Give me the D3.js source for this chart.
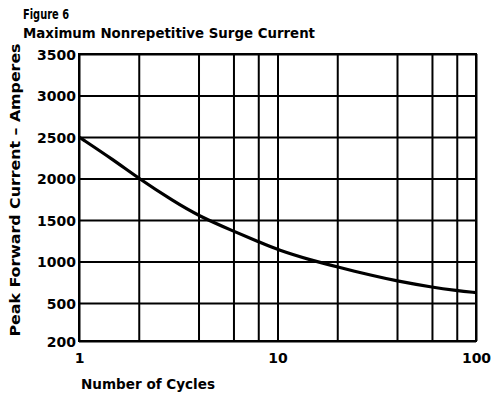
<!DOCTYPE html>
<html>
<head>
<meta charset="utf-8">
<script src="https://cdn.jsdelivr.net/npm/d3@7"></script>
<style>
  body { margin: 0; background: #fff; }
  text { font-family: "DejaVu Sans", sans-serif; font-weight: bold; fill: #000; }
</style>
</head>
<body>
<div id="chart"></div>
<script>
// values
var cycles  = [1, 1.5, 2, 3, 4, 6, 8, 10, 15, 20, 30, 40, 60, 80, 100];
var current = [2500, 2220, 2000, 1725, 1550, 1365, 1240, 1140, 1010, 935, 830, 765, 690, 650, 625];
var xGrid   = [1, 2, 4, 6, 8, 10, 20, 40, 60, 80, 100];
var xLabels = [1, 10, 100];
var yTicks  = [200, 500, 1000, 1500, 2000, 2500, 3000, 3500];

var width = 493, height = 402;
var margin = { left: 79, top: 54, right: 17, bottom: 61 };
var w = width - margin.left - margin.right,
    h = height - margin.top - margin.bottom;

var svg = d3.select("#chart").append("svg")
  .attr("width", width).attr("height", height);

// titles
svg.append("text").attr("x", 23).attr("y", 19)
  .attr("font-size", 14).attr("textLength", 46).attr("lengthAdjust", "spacingAndGlyphs")
  .text("Figure 6");
svg.append("text").attr("x", 23).attr("y", 38)
  .attr("font-size", 14).attr("textLength", 292).attr("lengthAdjust", "spacingAndGlyphs")
  .text("Maximum Nonrepetitive Surge Current");

var g = svg.append("g").attr("transform", `translate(${margin.left},${margin.top})`);

var x = d3.scaleLog().domain([1, 100]).range([0, w]);
// the bottom gridline is labelled 200 but sits lower than a linear scale would put it
var y = d3.scaleLinear().domain([200, 500, 3500]).range([h, h - 38, 0]);

// vertical gridlines + x labels
var xAxis = g.append("g").attr("transform", `translate(0,${h})`)
  .call(d3.axisBottom(x).tickValues(xGrid).tickSize(-h).tickPadding(12)
    .tickFormat(d => xLabels.includes(d) ? d : ""));
xAxis.select(".domain").remove();
xAxis.selectAll("line").attr("stroke", "#000").attr("stroke-width", 2);
xAxis.selectAll("text").attr("font-size", 14).attr("font-family", "DejaVu Sans").attr("font-weight", "bold");

// horizontal gridlines + y labels
var yAxis = g.append("g")
  .call(d3.axisLeft(y).tickValues(yTicks).tickSize(-w).tickPadding(3).tickFormat(d3.format("d")));
yAxis.select(".domain").remove();
yAxis.selectAll("line").attr("stroke", "#000").attr("stroke-width", 2);
yAxis.selectAll("text").attr("font-size", 14).attr("font-family", "DejaVu Sans").attr("font-weight", "bold")
  .attr("dy", "0.36em");

// frame
g.append("rect").attr("width", w).attr("height", h)
  .attr("fill", "none").attr("stroke", "#000").attr("stroke-width", 2);

// curve
var line = d3.line()
  .x((d, i) => x(cycles[i]))
  .y(d => y(d))
  .curve(d3.curveBasis);
g.append("path").datum(current)
  .attr("d", line)
  .attr("fill", "none").attr("stroke", "#000").attr("stroke-width", 3.2);

// axis titles
svg.append("text").attr("x", 81).attr("y", 388.5)
  .attr("font-size", 14).attr("textLength", 134).attr("lengthAdjust", "spacingAndGlyphs")
  .text("Number of Cycles");
svg.append("text")
  .attr("transform", "translate(20,190) rotate(-90)")
  .attr("text-anchor", "middle")
  .attr("font-size", 14).attr("textLength", 293).attr("lengthAdjust", "spacingAndGlyphs")
  .text("Peak Forward Current  \u2013  Amperes");
</script>
</body>
</html>
